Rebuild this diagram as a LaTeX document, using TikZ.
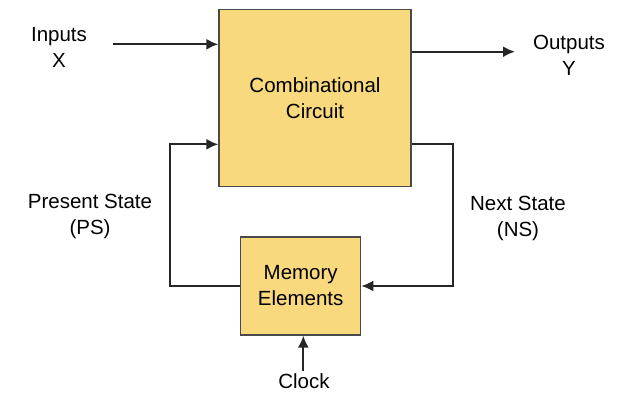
\documentclass[tikz,border=0pt]{standalone}
\usepackage{fontspec}
\setmainfont{Liberation Sans}
\usetikzlibrary{arrows.meta}
\definecolor{boxfill}{HTML}{F9D97E}
\definecolor{boxline}{HTML}{4A4A4A}
\begin{document}
\begin{tikzpicture}[x=1pt,y=-1pt,
  blk/.style={draw=boxline,line width=1.3pt,fill=boxfill,inner sep=0pt,align=center,font=\fontsize{20.5}{26}\selectfont},
  lbl/.style={align=center,font=\fontsize{20.5}{26}\selectfont,inner sep=0pt},
  conn/.style={line width=2pt,draw=black!85,-{Latex[length=12pt,width=11pt]}},
  wire/.style={line width=2pt,draw=black!85}]
\useasboundingbox (0,0) rectangle (619,392);
\node[blk,minimum width=192pt,minimum height=177pt] (cc) at (315,98) {Combinational\\Circuit};
\node[blk,minimum width=120pt,minimum height=98pt] (mem) at (300.7,286) {Memory\\Elements};
\node[lbl] (in) at (59,47) {Inputs\\X};
\node[lbl] (out) at (569,55) {Outputs\\Y};
\node[lbl] (ps) at (90,216) {Present State\\(PS)};
\node[lbl] (ns) at (518,218) {Next State\\(NS)};
\node[lbl,anchor=base] (clk) at (304,388.5) {Clock};
\coordinate (inS) at (113,44.3);
\coordinate (outE) at (515,51.7);
\coordinate (clkS) at (303.3,371);
\draw[conn] (inS) -- (inS -| cc.west);
\draw[conn] (cc.east |- outE) -- (outE);
\draw[conn] (mem.west) -- (170,286) -- (170,144.3) -- (cc.west |- 0,144.3);
\draw[conn] (cc.east |- 0,144.3) -- (453.3,144.3) -- (453.3,286) -- (mem.east);
\draw[conn] (clkS) -- (clkS |- mem.south);
\end{tikzpicture}
\end{document}
